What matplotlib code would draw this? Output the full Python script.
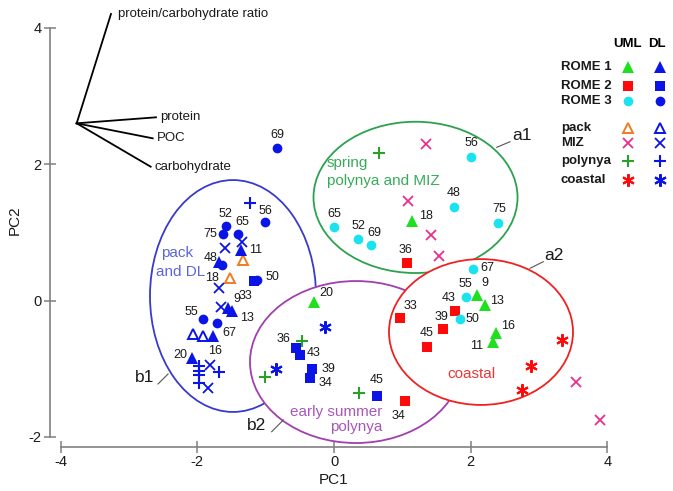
import matplotlib
matplotlib.use("Agg")
import matplotlib.pyplot as plt
from matplotlib.patches import Ellipse

plt.rcParams["font.family"] = ["Liberation Sans", "DejaVu Sans"]
plt.rcParams["axes.unicode_minus"] = False

# ---------------------------------------------------------------- scores
# Upper mixed layer (UML) samples
uml_rome1_x = [-0.293, 1.137, 2.097, 2.210, 2.371, 2.322]
uml_rome1_y = [-0.018, 1.170, 0.081, -0.066, -0.472, -0.604]
uml_rome1_lab = ["20", "18", "9", "13", "16", "11"]

uml_rome2_x = [1.064, 0.966, 1.771, 1.591, 1.357, 1.039]
uml_rome2_y = [0.545, -0.261, -0.154, -0.423, -0.677, -1.469]
uml_rome2_lab = ["36", "33", "43", "39", "45", "34"]

uml_rome3_x = [2.005, 1.756, 2.405, 0.000, 0.356, 0.537, 2.030, 1.932, 1.844]
uml_rome3_y = [2.109, 1.367, 1.141, 1.073, 0.897, 0.814, 0.457, 0.047, -0.276]
uml_rome3_lab = ["56", "48", "75", "65", "52", "69", "67", "55", "50"]

# Deep layer (DL) samples
dl_rome1_x = [-1.361, -1.550, -1.495, -1.766, -2.074, -1.690]
dl_rome1_y = [0.740, -0.115, -0.160, -0.521, -0.848, 0.565]
dl_rome1_lab = ["11", "9", "13", "16", "20", ""]

dl_rome2_x = [-1.170, -0.556, -0.498, -0.326, -0.351, 0.625]
dl_rome2_y = [0.290, -0.701, -0.799, -1.009, -1.141, -1.400]
dl_rome2_lab = ["33", "36", "43", "39", "34", "45"]

dl_rome3_x = [-1.585, -1.620, -1.409, -1.010, -1.640, -1.130, -1.913, -1.717, -0.829]
dl_rome3_y = [1.092, 0.971, 0.971, 1.147, 0.520, 0.300, -0.276, -0.334, 2.240]
dl_rome3_lab = ["52", "75", "65", "56", "48", "50", "55", "67", "69"]

# Sea-ice regime of each sample
pack_uml_x = [-1.336, -1.522]
pack_uml_y = [0.594, 0.325]
pack_uml_lab = ["", "18"]
pack_dl_x = [-2.068, -1.922]
pack_dl_y = [-0.491, -0.521]

miz_uml_x = [1.346, 1.088, 1.415, 1.541, 3.537, 3.893]
miz_uml_y = [2.290, 1.463, 0.960, 0.652, -1.190, -1.752]
miz_dl_x = [-1.342, -1.595, -1.678, -1.658, -1.815, -1.840]
miz_dl_y = [0.862, 0.765, 0.179, -0.091, -0.946, -1.287]

polynya_uml_x = [0.663, -0.473, -1.010, 0.371]
polynya_uml_y = [2.158, -0.589, -1.117, -1.361]
polynya_dl_x = [-1.229, -1.971, -1.971, -1.971, -1.971, -1.678]
polynya_dl_y = [1.434, -0.960, -1.030, -1.092, -1.214, -1.053]

coastal_uml_x = [3.332, 2.878, 2.747]
coastal_uml_y = [-0.579, -0.960, -1.312]
coastal_dl_x = [-0.132, -0.849]
coastal_dl_y = [-0.384, -1.009]

# ---------------------------------------------------------------- loadings
load_origin = (-3.766, 2.598)
load_names = ["protein/carbohydrate ratio", "protein", "POC", "carbohydrate"]
load_dx = [0.502, 1.161, 1.113, 1.083]
load_dy = [1.603, 0.088, -0.220, -0.636]

# ---------------------------------------------------------------- colours
GREEN = "#1ee01e"
RED = "#ff0a0a"
CYAN = "#1ae2ee"
BLUE = "#0a14e6"
ORANGE = "#f07c22"
PINK = "#ec2f86"
PGREEN = "#2aa02a"
ASTER = (6, 2, 0)

fig = plt.figure(figsize=(6.73, 4.91), dpi=100)
ax = fig.add_axes([0, 0, 1, 1])
ax.set_xlim(-4.888, 4.961)
ax.set_ylim(-2.793, 4.406)

# axes: detached spines with crossing ticks
AX_GREY = "#808080"
for s in ("top", "right"):
    ax.spines[s].set_visible(False)
ax.spines["left"].set_position(("data", -4.156))
ax.spines["left"].set_bounds(-2, 4)
ax.spines["bottom"].set_position(("data", -2.148))
ax.spines["bottom"].set_bounds(-4, 4)
for s in ("left", "bottom"):
    ax.spines[s].set_color(AX_GREY)
    ax.spines[s].set_linewidth(1.2)
ax.set_xticks([-4, -2, 0, 2, 4])
ax.set_yticks([-2, 0, 2, 4])
ax.tick_params(direction="inout", length=8, width=1.1, color=AX_GREY,
               labelsize=10.5, labelcolor="#1a1a1a", pad=2)
fig.text(334 / 673, 1 - 480 / 491, "PC1", ha="center", va="center",
         fontsize=11, color="#1a1a1a")
fig.text(15 / 673, 1 - 220 / 491, "PC2", ha="center", va="center",
         fontsize=11, color="#1a1a1a", rotation=90)

# ---------------------------------------------------------------- groups
groups = [
    # (cx, cy, width, height, angle, colour, zorder)
    (-1.478, 0.066, 2.43, 3.40, 0, "#3a3acc", 1),
    (0.322, -0.902, 3.103, 2.375, 0, "#a03fae", 2),
    (1.193, 1.512, 2.986, 2.218, 0, "#2aa24e", 3),
    (2.151, -0.462, 2.693, 2.138, 0, "#ee2222", 4),
]
for cx, cy, w, h, ang, col, z in groups:
    ax.add_patch(Ellipse((cx, cy), w, h, angle=ang, facecolor="white",
                         edgecolor=col, linewidth=1.3, zorder=z))

TXT = 11
ax.text(-0.105, 2.012, "spring", color="#37ac58", fontsize=TXT,
        ha="left", va="center", zorder=6)
ax.text(-0.105, 1.757, "polynya and MIZ", color="#37ac58", fontsize=TXT,
        ha="left", va="center", zorder=6)
ax.text(2.015, -1.078, "coastal", color="#e8383a", fontsize=TXT,
        ha="center", va="center", zorder=6)
ax.text(0.702, -1.630, "early summer", color="#a857b9", fontsize=TXT,
        ha="right", va="center", zorder=6)
ax.text(0.702, -1.850, "polynya", color="#a857b9", fontsize=TXT,
        ha="right", va="center", zorder=6)
ax.text(-2.293, 0.692, "pack", color="#5b66d9", fontsize=TXT,
        ha="center", va="center", zorder=6)
ax.text(-2.246, 0.422, "and DL", color="#5b66d9", fontsize=TXT,
        ha="center", va="center", zorder=6)

# group tags with leader lines
tags = [
    ("a1", (2.747, 2.412), (2.381, 2.246), (2.576, 2.328)),
    ("a2", (3.220, 0.667), (2.868, 0.472), (3.063, 0.569)),
    ("b1", (-2.766, -1.122), (-2.576, -1.224), (-2.429, -1.078)),
    ("b2", (-1.131, -1.826), (-0.912, -1.924), (-0.742, -1.752)),
]
for name, (tx, ty), p0, p1 in tags:
    ax.text(tx, ty, name, fontsize=12.5, ha="center", va="center",
            color="#1a1a1a", zorder=6)
    ax.plot([p0[0], p1[0]], [p0[1], p1[1]], color="#555555", lw=0.8, zorder=6)

# ---------------------------------------------------------------- loadings
ox, oy = load_origin
label_gap = [5, 3, 3, 3]
for name, dx, dy, gap in zip(load_names, load_dx, load_dy, label_gap):
    ax.plot([ox, ox + dx], [oy, oy + dy], color="black", lw=1.3, zorder=5)
    ax.annotate(name, (ox + dx, oy + dy), xytext=(gap, 0),
                textcoords="offset points", ha="left", va="center",
                fontsize=9.5, color="#1a1a1a", zorder=6)

# ---------------------------------------------------------------- points
def pts(xs, ys, marker, color, ms, filled=True, mew=1.3):
    ax.plot(xs, ys, ls="none", marker=marker, ms=ms,
            mfc=color if filled else "none", mec=color, mew=mew, zorder=5)

pts(pack_uml_x, pack_uml_y, "^", ORANGE, 7.5, filled=False, mew=1.4)
pts(pack_dl_x, pack_dl_y, "^", BLUE, 7.5, filled=False, mew=1.4)
pts(miz_uml_x, miz_uml_y, "x", PINK, 6.5)
pts(miz_dl_x, miz_dl_y, "x", BLUE, 6.5)
pts(polynya_uml_x, polynya_uml_y, "+", PGREEN, 9, mew=1.5)
pts(polynya_dl_x, polynya_dl_y, "+", BLUE, 9, mew=1.5)
pts(coastal_uml_x, coastal_uml_y, ASTER, RED, 9, mew=1.5)
pts(coastal_dl_x, coastal_dl_y, ASTER, BLUE, 9, mew=1.5)

pts(uml_rome1_x, uml_rome1_y, "^", GREEN, 8, mew=0)
pts(uml_rome2_x, uml_rome2_y, "s", RED, 6.5, mew=0)
pts(uml_rome3_x, uml_rome3_y, "o", CYAN, 7, mew=0)
pts(dl_rome1_x, dl_rome1_y, "^", BLUE, 8, mew=0)
pts(dl_rome2_x, dl_rome2_y, "s", BLUE, 6.5, mew=0)
pts(dl_rome3_x, dl_rome3_y, "o", BLUE, 7, mew=0)

# station labels: offsets in points from each marker
label_offsets = {
    "uml_rome1": [(8.6, 6), (10.3, 3.4), (5.5, 8.4), (8.4, 3.1), (8.9, 4.8), (-11.5, -3.1)],
    "uml_rome2": [(-1.2, 9.6), (7.7, 8.9), (-4.8, 9.1), (-0.7, 8.6), (0, 9.6), (-4.8, -11)],
    "uml_rome3": [(0, 9.6), (0, 10.5), (1, 9.6), (0, 9.6), (0, 9.6), (3, 8.9),
                  (10.5, 0.7), (-0.7, 9.6), (9.1, 0)],
    "dl_rome1": [(10.8, 0), (6, 7), (11, -4.5), (1.2, -10.6), (-8.9, 2.4), (0, 0)],
    "dl_rome2": [(-6, -11), (-9.1, 6.5), (10, 1.2), (12, 0), (11.5, -3.6), (0, 11.5)],
    "dl_rome3": [(0, 9), (-9.6, 0), (3, 8.6), (0, 8.4), (-8, 5.3), (11.3, 2.2),
                 (-8.4, 5.5), (9, -6.8), (0, 9.1)],
    "pack_uml": [(0, 0), (-13, 0)],
}
labelled = {
    "uml_rome1": (uml_rome1_x, uml_rome1_y, uml_rome1_lab),
    "uml_rome2": (uml_rome2_x, uml_rome2_y, uml_rome2_lab),
    "uml_rome3": (uml_rome3_x, uml_rome3_y, uml_rome3_lab),
    "dl_rome1": (dl_rome1_x, dl_rome1_y, dl_rome1_lab),
    "dl_rome2": (dl_rome2_x, dl_rome2_y, dl_rome2_lab),
    "dl_rome3": (dl_rome3_x, dl_rome3_y, dl_rome3_lab),
    "pack_uml": (pack_uml_x, pack_uml_y, pack_uml_lab),
}
for key, (xs, ys, labs) in labelled.items():
    for x, y, lab, off in zip(xs, ys, labs, label_offsets[key]):
        if lab:
            ax.annotate(lab, (x, y), xytext=off, textcoords="offset points",
                        ha="center", va="center", fontsize=9,
                        color="#1a1a1a", zorder=7)

# ---------------------------------------------------------------- key
def fx(px):
    return px / 673

def fy(py):
    return 1 - py / 491

col_uml, col_dl, text_left = 628.3, 660.0, 560.7
ax.text(fx(627.3), fy(44), "UML", transform=ax.transAxes, ha="center",
        va="center", fontsize=9.5, fontweight="bold")
ax.text(fx(656.7), fy(44), "DL", transform=ax.transAxes, ha="center",
        va="center", fontsize=9.5, fontweight="bold")
key_rows = [
    ("ROME 1", 67.3, ("^", GREEN, 8, True, 0), ("^", BLUE, 8, True, 0)),
    ("ROME 2", 85.7, ("s", RED, 6.5, True, 0), ("s", BLUE, 6.5, True, 0)),
    ("ROME 3", 101.0, ("o", CYAN, 7, True, 0), ("o", BLUE, 7, True, 0)),
    ("pack", 128.3, ("^", ORANGE, 7.5, False, 1.4), ("^", BLUE, 7.5, False, 1.4)),
    ("MIZ", 143.3, ("x", PINK, 6.5, True, 1.3), ("x", BLUE, 6.5, True, 1.3)),
    ("polynya", 161.0, ("+", PGREEN, 9, True, 1.5), ("+", BLUE, 9, True, 1.5)),
    ("coastal", 180.0, (ASTER, RED, 9, True, 1.5), (ASTER, BLUE, 9, True, 1.5)),
]
for name, py, m_uml, m_dl in key_rows:
    ax.text(fx(text_left), fy(py), name, transform=ax.transAxes, ha="left",
            va="center", fontsize=9.5, fontweight="bold", color="#1a1a1a")
    for px, (mk, col, ms, filled, mew) in ((col_uml, m_uml), (col_dl, m_dl)):
        ax.plot([fx(px)], [fy(py)], transform=ax.transAxes, ls="none",
                marker=mk, ms=ms, mfc=col if filled else "none", mec=col,
                mew=mew, clip_on=False, zorder=5)

fig.savefig("out.png", dpi=100)
